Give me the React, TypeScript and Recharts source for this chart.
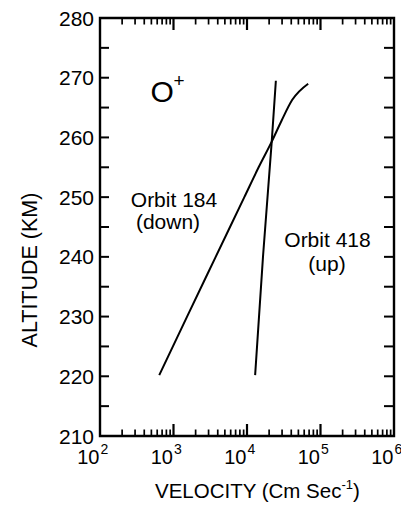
import React from "react";
import { LineChart, Line, XAxis, YAxis, ReferenceLine, ReferenceArea } from "recharts";

// ---- data ----
const orbit184Velocity = [640, 1530, 3750, 9200, 14400, 21700, 29500, 41300, 68000];
const orbit184Altitude = [220.2, 230, 240, 250, 255, 259.3, 262.8, 266.3, 269.0];
const orbit418Velocity = [12900, 16500, 21700, 24700];
const orbit418Altitude = [220.2, 240, 259.3, 269.5];

const velocityMajorTicks = [100, 1000, 10000, 100000, 1000000];
const velocityMinorTicks = [
  200, 300, 400, 500, 600, 700, 800, 900,
  2000, 3000, 4000, 5000, 6000, 7000, 8000, 9000,
  20000, 30000, 40000, 50000, 60000, 70000, 80000, 90000,
  200000, 300000, 400000, 500000, 600000, 700000, 800000, 900000,
];
const altitudeTicks = [215, 220, 225, 230, 235, 240, 245, 250, 255, 260, 265, 270, 275];
const altitudeLabels = [210, 220, 230, 240, 250, 260, 270, 280];

const V_MIN = 100;
const V_MAX = 1000000;
const A_MIN = 210;
const A_MAX = 280;

const orbit184 = orbit184Velocity.map((v, i) => ({ v, alt: orbit184Altitude[i] }));
const orbit418 = orbit418Velocity.map((v, i) => ({ v, alt: orbit418Altitude[i] }));

const FONT = "'Liberation Sans', Arial, Helvetica, sans-serif";
const W = 401;
const H = 508;
const BLACK = "#000";

// plot size in px (for converting tick lengths in px into data units)
const PLOT_W = 294;
const PLOT_H = 418;
const kmPerPx = (A_MAX - A_MIN) / PLOT_H;
const decPerPx = Math.log10(V_MAX / V_MIN) / PLOT_W;

const BottomLabel = (props: any) => {
  const { x, y, payload } = props;
  const e = Math.round(Math.log10(payload.value));
  return (
    <g>
      <text x={x - 0.5} y={y + 28} textAnchor="end" fontSize={20} fontFamily={FONT} fill={BLACK}>
        10
      </text>
      <text x={x + 0.5} y={y + 18} textAnchor="start" fontSize={14} fontFamily={FONT} fill={BLACK}>
        {e}
      </text>
    </g>
  );
};

const LeftLabel = (props: any) => {
  const { x, y, payload } = props;
  return (
    <text x={x - 6} y={y + 7.5} textAnchor="end" fontSize={21} fontFamily={FONT} fill={BLACK}>
      {payload.value}
    </text>
  );
};

const ax = { xAxisId: "b", yAxisId: "l", ifOverflow: "visible" as const };

export default function App() {
  const xTickLines: React.ReactNode[] = [];
  const addXTick = (v: number, lenPx: number, w: number) => {
    const len = lenPx * kmPerPx;
    xTickLines.push(
      <ReferenceLine key={`b${v}`} {...ax} segment={[{ x: v, y: A_MIN }, { x: v, y: A_MIN + len }]} stroke={BLACK} strokeWidth={w} />,
      <ReferenceLine key={`t${v}`} {...ax} segment={[{ x: v, y: A_MAX }, { x: v, y: A_MAX - len }]} stroke={BLACK} strokeWidth={w} />
    );
  };
  velocityMinorTicks.forEach((v) => addXTick(v, 6.5, 1.7));
  velocityMajorTicks.slice(1, -1).forEach((v) => addXTick(v, 12, 2.2));

  const yTickLines = altitudeTicks.flatMap((a) => [
    <ReferenceLine
      key={`l${a}`}
      {...ax}
      segment={[{ x: V_MIN, y: a }, { x: V_MIN * Math.pow(10, 9 * decPerPx), y: a }]}
      stroke={BLACK}
      strokeWidth={2}
    />,
    <ReferenceLine
      key={`r${a}`}
      {...ax}
      segment={[{ x: V_MAX / Math.pow(10, 10 * decPerPx), y: a }, { x: V_MAX, y: a }]}
      stroke={BLACK}
      strokeWidth={2}
    />,
  ]);

  return (
    <div style={{ position: "relative", width: W, height: H }}>
      <LineChart width={W} height={H} margin={{ top: 10, right: 15, bottom: 20, left: 32 }}>
        <XAxis
          xAxisId="b"
          dataKey="v"
          type="number"
          scale="log"
          domain={[V_MIN, V_MAX]}
          allowDataOverflow
          ticks={velocityMajorTicks}
          interval={0}
          orientation="bottom"
          height={60}
          tickSize={0}
          tickMargin={0}
          tickLine={false}
          axisLine={false}
          tick={<BottomLabel />}
        />
        <YAxis
          yAxisId="l"
          type="number"
          domain={[A_MIN, A_MAX]}
          ticks={altitudeLabels}
          interval={0}
          width={60}
          tickSize={0}
          tickMargin={0}
          tickLine={false}
          axisLine={false}
          tick={<LeftLabel />}
        />
        <ReferenceArea
          {...ax}
          x1={V_MIN}
          x2={V_MAX}
          y1={A_MIN}
          y2={A_MAX}
          fill="none"
          fillOpacity={0}
          stroke={BLACK}
          strokeWidth={2.4}
        />
        {xTickLines}
        {yTickLines}
        <Line
          xAxisId="b"
          yAxisId="l"
          data={orbit184}
          dataKey="alt"
          type="monotone"
          stroke={BLACK}
          strokeWidth={2}
          dot={false}
          isAnimationActive={false}
        />
        <Line
          xAxisId="b"
          yAxisId="l"
          data={orbit418}
          dataKey="alt"
          type="linear"
          stroke={BLACK}
          strokeWidth={2}
          dot={false}
          isAnimationActive={false}
        />
      </LineChart>
      <svg
        width={W}
        height={H}
        style={{ position: "absolute", left: 0, top: 0, pointerEvents: "none" }}
        fontFamily={FONT}
      >
        <text x={142.5} y={93.5} fontSize={30} fill={BLACK}>
          O
        </text>
        <text x={165.5} y={79} fontSize={19} fill={BLACK}>
          +
        </text>
        <text x={166} y={199} textAnchor="middle" fontSize={21} fill={BLACK}>
          Orbit 184
        </text>
        <text x={160} y={221} textAnchor="middle" fontSize={21} fill={BLACK}>
          (down)
        </text>
        <text x={319.5} y={239} textAnchor="middle" fontSize={21} fill={BLACK}>
          Orbit 418
        </text>
        <text x={319} y={263} textAnchor="middle" fontSize={21} fill={BLACK}>
          (up)
        </text>
        <text x={147} y={490} fontSize={20.5} fill={BLACK}>
          VELOCITY (Cm Sec<tspan dy={-9} fontSize={13}>-1</tspan>
          <tspan dy={9}>)</tspan>
        </text>
        <text
          x={29}
          y={262}
          transform="rotate(-90 29 262)"
          textAnchor="middle"
          fontSize={21.5}
          fill={BLACK}
        >
          ALTITUDE (KM)
        </text>
      </svg>
    </div>
  );
}
